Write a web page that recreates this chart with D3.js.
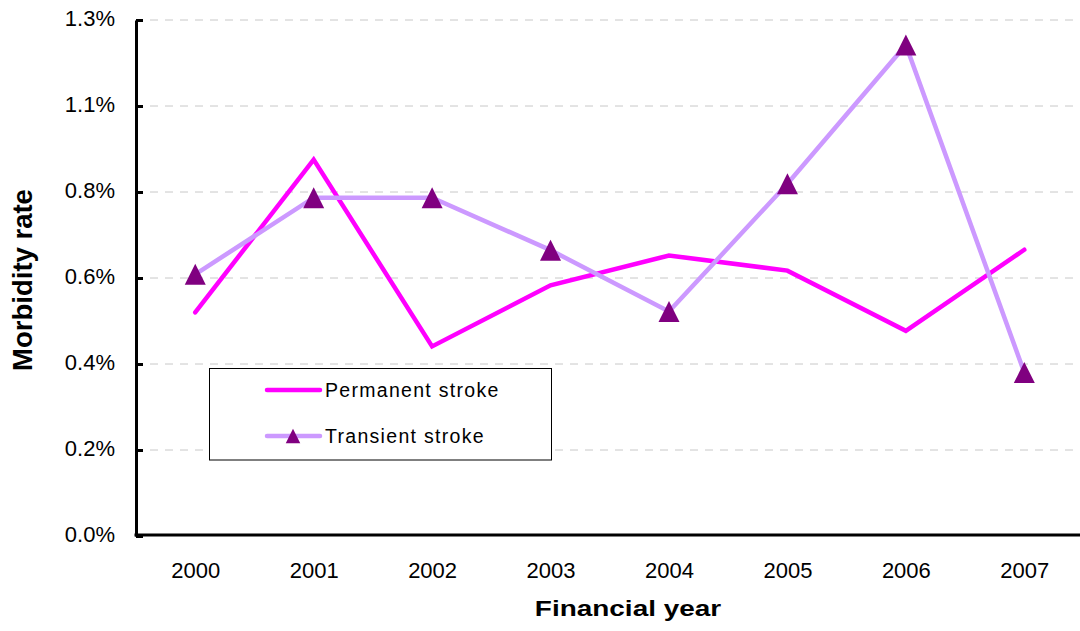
<html>
  <head>
    <meta charset="utf-8" />
    <title>Morbidity rate by financial year</title>
    <script src="https://d3js.org/d3.v7.min.js"></script>
    <style type="text/css">
      body { margin: 0; background: white; }
      text { font-family: Arial, "Liberation Sans", sans-serif; fill: black; }
    </style>
  </head>
  <body>
    <div id="chart"></div>
    <script type="text/javascript">
      // data (percent)
      var years = ["2000", "2001", "2002", "2003", "2004", "2005", "2006", "2007"];
      var permanent = [0.546, 0.919, 0.463, 0.612, 0.685, 0.648, 0.501, 0.699];
      var transient = [0.639, 0.826, 0.826, 0.698, 0.548, 0.860, 1.199, 0.399];
      var yTicks = [0, 0.21, 0.42, 0.63, 0.84, 1.05, 1.26];
      var yTickLabels = ["0.0%", "0.2%", "0.4%", "0.6%", "0.8%", "1.1%", "1.3%"];
      var seriesNames = ["Permanent stroke", "Transient stroke"];

      var width = 1080, height = 631;
      var plotLeft = 136, plotRight = 1083.5, plotTop = 20, plotBottom = 536;

      var svg = d3.select("#chart").append("svg")
          .attr("width", width)
          .attr("height", height);

      var x = d3.scalePoint().domain(years).range([plotLeft, plotRight]).padding(0.5);
      var y = d3.scaleLinear().domain([0, 1.26]).range([plotBottom, plotTop]);

      // triangle marker centred on its bounding box, like the Excel one
      function triangle(s) {
        var h = s / 2;
        return "M0," + (-h) + "L" + h + "," + h + "L" + (-h) + "," + h + "Z";
      }

      // gridlines
      svg.append("g")
        .selectAll("line")
        .data(yTicks.slice(1))
        .enter().append("line")
          .attr("x1", 150).attr("x2", width)
          .attr("y1", function(d) { return y(d); })
          .attr("y2", function(d) { return y(d); })
          .style("stroke", "#c8c8c8")
          .style("stroke-width", 1)
          .style("stroke-dasharray", "8,7");

      // y axis
      var yAxis = d3.axisRight(y)
          .tickValues(yTicks)
          .tickFormat(function(d, i) { return yTickLabels[i]; })
          .tickSize(7)
          .tickSizeOuter(0);
      var gy = svg.append("g").attr("transform", "translate(" + plotLeft + ",0)").call(yAxis);
      gy.select(".domain").style("stroke", "black").style("stroke-width", 3);
      gy.selectAll(".tick line").style("stroke", "black").style("stroke-width", 3);
      gy.selectAll(".tick text")
        .attr("x", -21)
        .attr("dy", "0.27em")
        .style("text-anchor", "end")
        .style("font-size", "22px")
        .style("font-family", "Arial, 'Liberation Sans', sans-serif");

      // x axis
      var xAxis = d3.axisBottom(x).tickSize(0).tickSizeOuter(0);
      var gx = svg.append("g").attr("transform", "translate(0," + (plotBottom - 1) + ")").call(xAxis);
      gx.select(".domain").attr("d", "M" + (plotLeft - 1.5) + ",0H" + width)
        .style("stroke", "black").style("stroke-width", 3);
      gx.selectAll(".tick text")
        .attr("y", 43)
        .attr("dy", 0)
        .style("font-size", "22px")
        .style("font-family", "Arial, 'Liberation Sans', sans-serif");

      // series lines
      var line = d3.line()
          .x(function(d, i) { return x(years[i]); })
          .y(function(d) { return y(d); });

      svg.append("path")
        .datum(permanent)
        .attr("d", line)
        .style("fill", "none")
        .style("stroke", "#ff00ff")
        .style("stroke-width", 4.5)
        .style("stroke-linecap", "round")
        .style("stroke-linejoin", "miter");

      svg.append("path")
        .datum(transient)
        .attr("d", line)
        .style("fill", "none")
        .style("stroke", "#cc99ff")
        .style("stroke-width", 4.5)
        .style("stroke-linejoin", "miter");

      svg.append("g")
        .selectAll("path")
        .data(transient)
        .enter().append("path")
          .attr("d", triangle(21))
          .attr("transform", function(d, i) { return "translate(" + x(years[i]) + "," + y(d) + ")"; })
          .style("fill", "#800080");

      // legend
      var lg = svg.append("g");
      lg.append("rect")
        .attr("x", 209.5).attr("y", 368.5)
        .attr("width", 342).attr("height", 91.5)
        .style("fill", "white").style("stroke", "black").style("stroke-width", 1);
      lg.append("line")
        .attr("x1", 267).attr("x2", 320).attr("y1", 390).attr("y2", 390)
        .style("stroke", "#ff00ff").style("stroke-width", 4.5).style("stroke-linecap", "round");
      lg.append("line")
        .attr("x1", 267).attr("x2", 320).attr("y1", 436).attr("y2", 436)
        .style("stroke", "#cc99ff").style("stroke-width", 4.5).style("stroke-linecap", "round");
      lg.append("path")
        .attr("d", triangle(14.5))
        .attr("transform", "translate(293,436)")
        .style("fill", "#800080");
      lg.selectAll("text.lab")
        .data(seriesNames)
        .enter().append("text")
          .attr("class", "lab")
          .attr("x", 325)
          .attr("y", function(d, i) { return 397 + i * 46; })
          .style("font-size", "19.5px")
          .style("letter-spacing", "1.3px")
          .text(function(d) { return d; });

      // axis titles
      svg.append("text")
        .attr("transform", "translate(32,280) rotate(-90)")
        .style("text-anchor", "middle")
        .style("font-size", "27.5px")
        .style("font-weight", "bold")
        .text("Morbidity rate");

      svg.append("text")
        .attr("transform", "translate(628,616) scale(1.3,1)")
        .style("text-anchor", "middle")
        .style("font-size", "21.5px")
        .style("font-weight", "bold")
        .text("Financial year");
    </script>
  </body>
</html>
